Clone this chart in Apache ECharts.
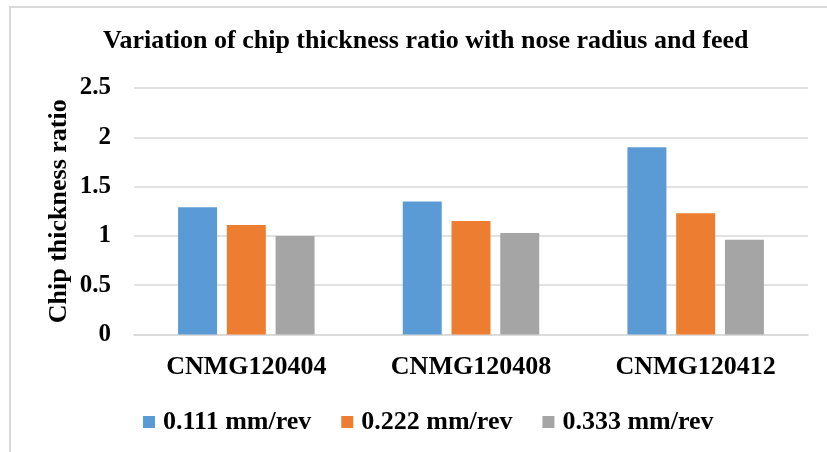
<!DOCTYPE html>
<html>
<head>
<meta charset="utf-8">
<script src="https://cdn.jsdelivr.net/npm/echarts@6/dist/echarts.min.js"></script>
<style>
  html, body { margin: 0; padding: 0; background: #ffffff; }
  #chart { width: 827px; height: 452px; }
</style>
</head>
<body>
<div id="chart"></div>
<script>
// Chip thickness ratio for three insert nose radii at three feeds
const titleText = 'Variation of chip thickness ratio with nose radius and feed';
const yAxisTitle = 'Chip thickness ratio';
const inserts = ['CNMG120404', 'CNMG120408', 'CNMG120412'];
const feedNames = ['0.111 mm/rev', '0.222 mm/rev', '0.333 mm/rev'];
const feed0111 = [1.29, 1.35, 1.90];
const feed0222 = [1.11, 1.15, 1.23];
const feed0333 = [1.00, 1.03, 0.96];
const yTicks = [0, 0.5, 1, 1.5, 2, 2.5];

const palette = ['#5B9BD5', '#ED7D31', '#A5A5A5'];
const serif = '"Times New Roman", "Liberation Serif", serif';
const seriesValues = [feed0111, feed0222, feed0333];

const chart = echarts.init(document.getElementById('chart'), null, { renderer: 'canvas' });

chart.setOption({
  animation: false,
  backgroundColor: '#ffffff',
  color: palette,
  graphic: [{
    type: 'rect',
    shape: { x: 10, y: 7, width: 900, height: 500 },
    style: { fill: 'none', stroke: '#d9d9d9', lineWidth: 2 },
    silent: true,
    z: -1
  }],
  title: {
    text: titleText,
    left: 103,
    top: 28,
    padding: 0,
    textStyle: { fontFamily: serif, fontWeight: 'bold', fontSize: 26, color: '#000000' }
  },
  legend: {
    data: feedNames,
    left: 143,
    top: 409,
    padding: 0,
    itemWidth: 12,
    itemHeight: 12,
    itemGap: 30,
    icon: 'rect',
    textStyle: { fontFamily: serif, fontWeight: 'bold', fontSize: 26, color: '#000000', padding: [0, 0, 0, 3] }
  },
  grid: { left: 134, right: 19, top: 88, bottom: 117.5, containLabel: false },
  xAxis: {
    type: 'category',
    data: inserts,
    axisTick: { show: false },
    axisLine: { lineStyle: { color: '#d9d9d9', width: 1.5 } },
    axisLabel: { margin: 20, fontFamily: serif, fontWeight: 'bold', fontSize: 26, color: '#000000' }
  },
  yAxis: {
    type: 'value',
    min: yTicks[0],
    max: yTicks[yTicks.length - 1],
    interval: 0.5,
    name: yAxisTitle,
    nameLocation: 'middle',
    nameGap: 62,
    nameMoveOverlap: false,
    nameTextStyle: { fontFamily: serif, fontWeight: 'bold', fontSize: 26, color: '#000000' },
    axisLine: { show: false },
    axisTick: { show: false },
    splitLine: { lineStyle: { color: '#d9d9d9', width: 1.5 } },
    axisLabel: { margin: 23, fontFamily: serif, fontWeight: 'bold', fontSize: 25, color: '#000000' }
  },
  series: feedNames.map((name, i) => ({
    name: name,
    type: 'bar',
    data: seriesValues[i],
    barWidth: 39,
    barGap: '25%',
    itemStyle: { color: palette[i] }
  }))
});
</script>
</body>
</html>
